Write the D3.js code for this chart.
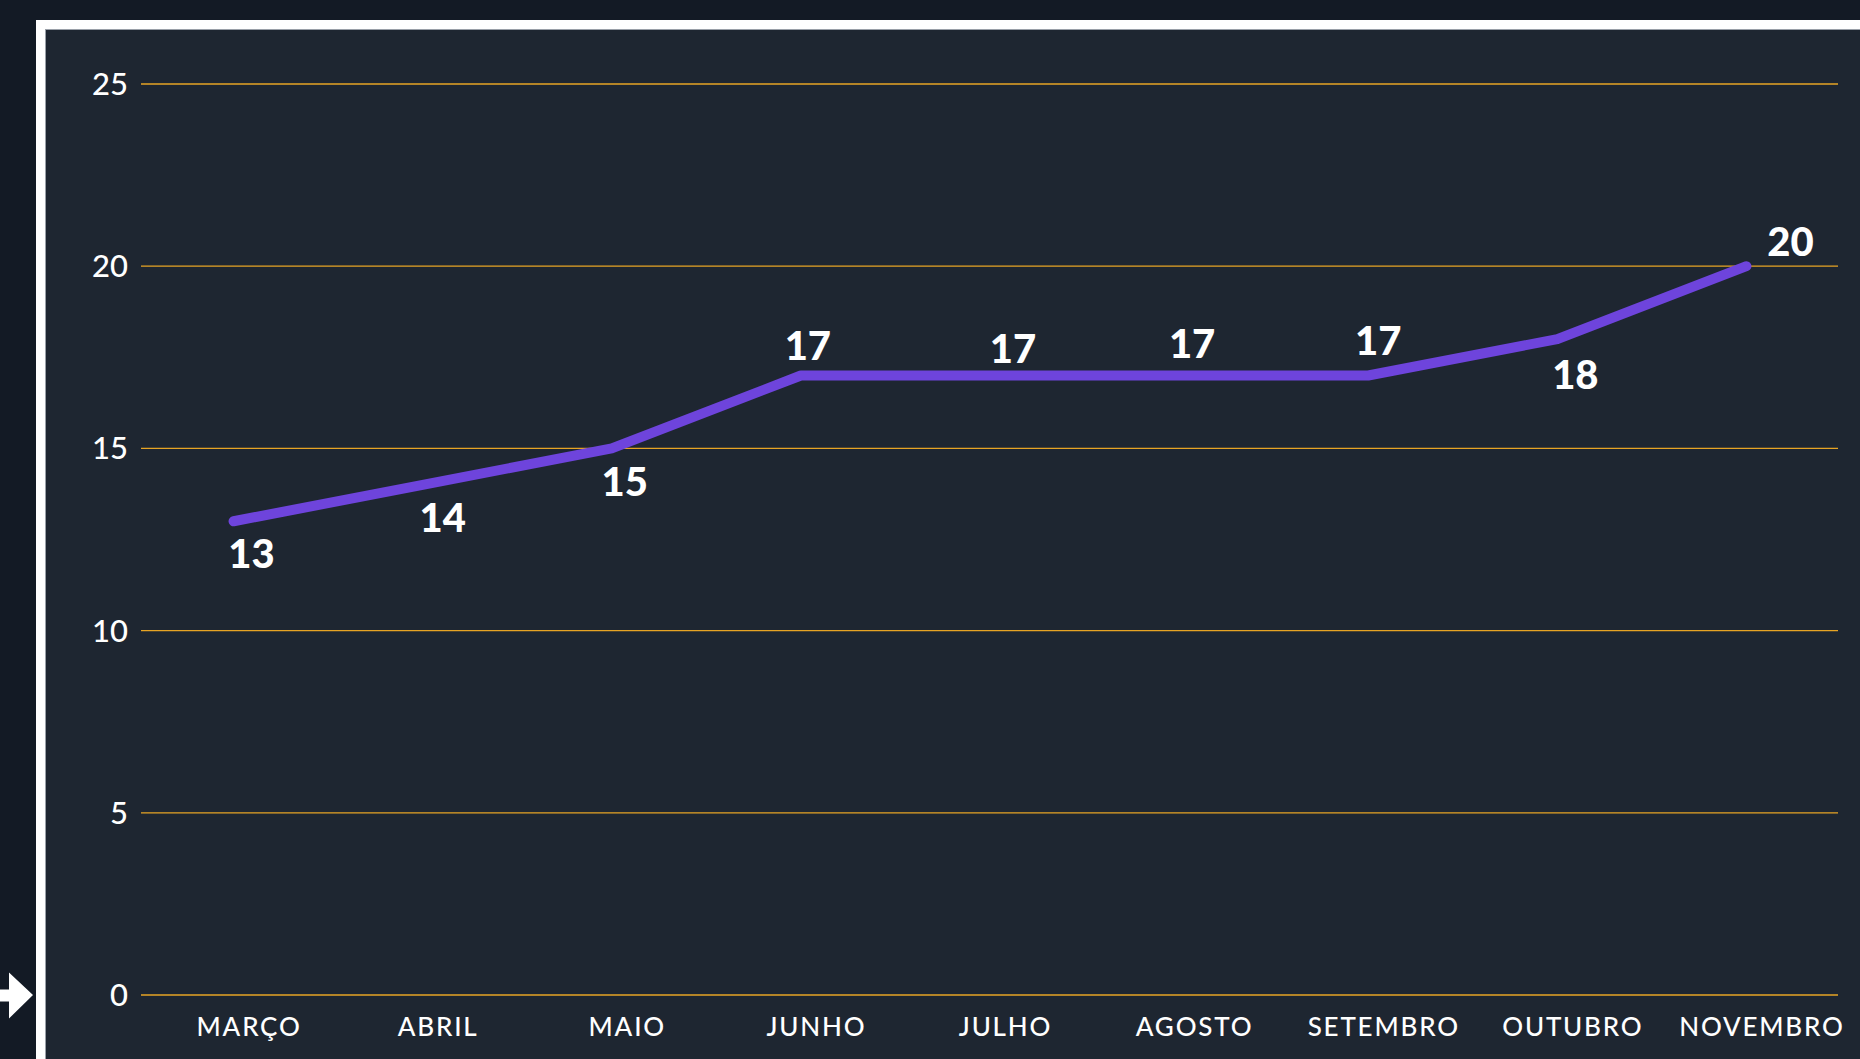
<!DOCTYPE html>
<html>
<head>
<meta charset="utf-8">
<script src="https://cdn.jsdelivr.net/npm/d3@7"></script>
<style>
  html, body { margin: 0; padding: 0; background: #131a25; }
  svg { display: block; }
</style>
</head>
<body>
<svg id="chart" width="1860" height="1059"></svg>
<script>
// ---- data ----
const months = ["MARÇO", "ABRIL", "MAIO", "JUNHO", "JULHO", "AGOSTO", "SETEMBRO", "OUTUBRO", "NOVEMBRO"];
const values = [13, 14, 15, 17, 17, 17, 17, 18, 20];
const yTicks = [0, 5, 10, 15, 20, 25];

// ---- layout ----
const W = 1860, H = 1059;
const svg = d3.select("#chart");

// background & framed panel
svg.append("rect").attr("width", W).attr("height", H).attr("fill", "#131a25");
svg.append("rect").attr("x", 36).attr("y", 20).attr("width", W).attr("height", H).attr("fill", "#ffffff");
svg.append("rect").attr("x", 45).attr("y", 29).attr("width", W).attr("height", H).attr("fill", "#9aa0a8");
svg.append("rect").attr("x", 46).attr("y", 30).attr("width", W).attr("height", H).attr("fill", "#1e2631");

// arrow at left edge
svg.append("path")
  .attr("d", "M0,989.5 L9,989.5 L9,972.5 L33,995 L9,1018.5 L9,1001.5 L0,1001.5 Z")
  .attr("fill", "#ffffff");

const x = d3.scalePoint().domain(months).range([139, 1841]).padding(0.5);
const y = d3.scaleLinear().domain([0, 25]).range([995, 84]);

// gridlines
svg.append("g").selectAll("line").data(yTicks).join("line")
  .attr("x1", 141).attr("x2", 1838)
  .attr("y1", d => y(d)).attr("y2", d => y(d))
  .attr("stroke", "#e7a424").attr("stroke-width", 1.3);

// y axis labels
const yAxis = d3.axisLeft(y).tickValues(yTicks).tickSize(0).tickPadding(0);
const gy = svg.append("g").attr("transform", "translate(128,0)").call(yAxis);
gy.select(".domain").remove();
gy.selectAll("text")
  .attr("fill", "#ffffff")
  .attr("font-family", "Lato, 'Noto Sans', sans-serif")
  .attr("font-size", 31)
  .attr("font-weight", 500)
  .attr("dy", "0.34em");

// x axis labels
const xAxis = d3.axisBottom(x).tickSize(0).tickPadding(0);
const gx = svg.append("g").attr("transform", "translate(15,1036)").call(xAxis);
gx.select(".domain").remove();
gx.selectAll("text")
  .attr("fill", "#ffffff")
  .attr("font-family", "Lato, 'Noto Sans', sans-serif")
  .attr("font-size", 26)
  .attr("font-weight", 500)
  .attr("letter-spacing", "1.8px")
  .attr("dy", 0)
  .attr("y", 0);

// line
const pts = months.map((m, i) => ({ m, v: values[i] }));
const line = d3.line().x(d => x(d.m)).y(d => y(d.v));
svg.append("path")
  .datum(pts)
  .attr("d", line)
  .attr("fill", "none")
  .attr("stroke", "#6e44dc")
  .attr("stroke-width", 10)
  .attr("stroke-linecap", "round")
  .attr("stroke-linejoin", "round");

// data labels (manual placement offsets as in the source)
const labelDx = [18, 20, 13, 7, 23, 13, 10, 18, 44];
const labelDy = [47, 47, 48, -16, -13, -18, -21, 50, -10];
svg.append("g").selectAll("text").data(pts).join("text")
  .attr("x", (d, i) => x(d.m) + labelDx[i])
  .attr("y", (d, i) => y(d.v) + labelDy[i])
  .attr("text-anchor", "middle")
  .attr("fill", "#ffffff")
  .attr("font-family", "Lato, 'Noto Sans', sans-serif")
  .attr("font-size", 40)
  .attr("font-weight", 900)
  .text(d => d.v);
</script>
</body>
</html>
